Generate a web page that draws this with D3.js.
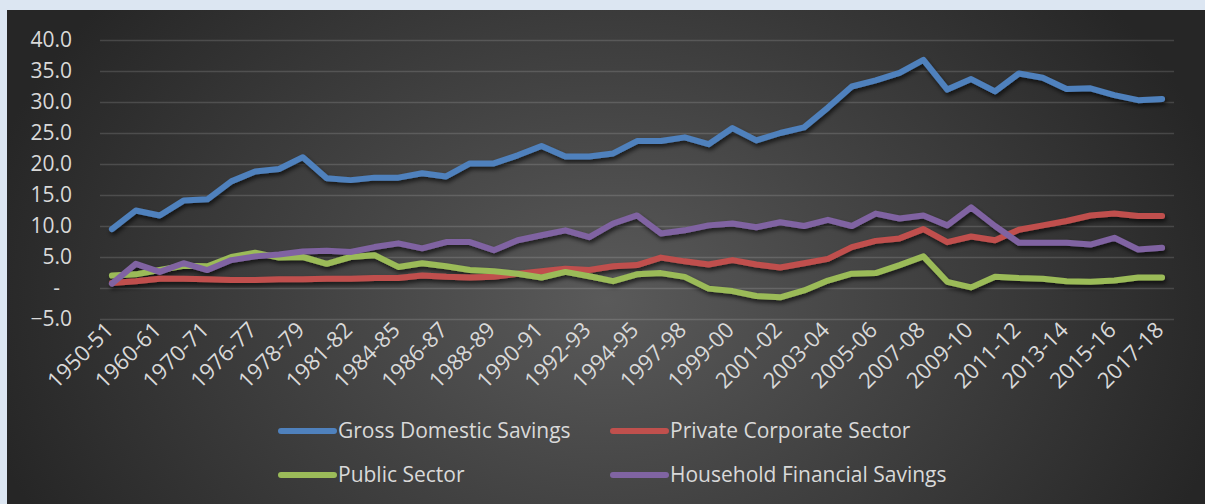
<!DOCTYPE html>
<html>
<head>
<meta charset="utf-8">
<script src="https://cdn.jsdelivr.net/npm/d3@7"></script>
<style>
  html, body { margin: 0; padding: 0; background: #dce6f2; }
  svg { display: block; }
  text { font-family: "Open Sans", "Noto Sans", sans-serif; fill: #d9d9d9; }
</style>
</head>
<body>
<svg id="chart" width="1205" height="504"></svg>
<script>
// Savings as a share of GDP (%), India
const categories = [
  "1950-51", "1955-56", "1960-61", "1965-66", "1970-71", "1975-76", "1976-77", "1977-78",
  "1978-79", "1980-81", "1981-82", "1982-83", "1984-85", "1985-86", "1986-87", "1987-88",
  "1988-89", "1989-90", "1990-91", "1991-92", "1992-93", "1993-94", "1994-95", "1995-96",
  "1997-98", "1998-99", "1999-00", "2000-01", "2001-02", "2002-03", "2003-04", "2004-05",
  "2005-06", "2006-07", "2007-08", "2008-09", "2009-10", "2010-11", "2011-12", "2012-13",
  "2013-14", "2014-15", "2015-16", "2016-17", "2017-18"
];

const grossDomesticSavings = [
  9.5, 12.5, 11.7, 14.1, 14.3, 17.2, 18.8, 19.2, 21.1, 17.7, 17.4, 17.8, 17.8, 18.5, 18.0,
  20.1, 20.1, 21.4, 22.9, 21.2, 21.2, 21.7, 23.7, 23.7, 24.3, 23.2, 25.8, 23.8, 25.0, 25.9,
  29.1, 32.5, 33.5, 34.7, 36.8, 32.0, 33.7, 31.7, 34.6, 33.9, 32.1, 32.2, 31.1, 30.3, 30.5
];

const privateCorporateSector = [
  0.8, 1.1, 1.5, 1.5, 1.4, 1.3, 1.3, 1.4, 1.4, 1.5, 1.5, 1.6, 1.6, 2.0, 1.8,
  1.7, 1.8, 2.3, 2.7, 3.1, 2.9, 3.5, 3.7, 4.9, 4.3, 3.8, 4.5, 3.8, 3.3, 4.0,
  4.7, 6.6, 7.6, 8.0, 9.5, 7.4, 8.3, 7.7, 9.4, 10.1, 10.8, 11.7, 12.0, 11.6, 11.6
];

const publicSector = [
  2.0, 2.2, 2.9, 3.6, 3.5, 5.0, 5.7, 4.9, 5.0, 3.9, 5.0, 5.3, 3.4, 4.0, 3.5,
  2.9, 2.7, 2.3, 1.7, 2.6, 1.9, 1.1, 2.2, 2.4, 1.8, -0.1, -0.5, -1.3, -1.5, -0.4,
  1.2, 2.3, 2.4, 3.7, 5.1, 1.0, 0.1, 1.8, 1.6, 1.5, 1.1, 1.0, 1.2, 1.7, 1.7
];

const householdFinancialSavings = [
  0.7, 3.9, 2.6, 4.0, 2.9, 4.5, 5.1, 5.4, 5.9, 6.0, 5.8, 6.6, 7.2, 6.4, 7.4,
  7.4, 6.1, 7.7, 8.5, 9.3, 8.2, 10.4, 11.7, 8.8, 9.3, 10.1, 10.4, 9.8, 10.6, 10.0,
  11.0, 10.0, 12.0, 11.2, 11.7, 10.1, 13.0, 10.0, 7.3, 7.3, 7.3, 7.0, 8.1, 6.2, 6.5
];

const yTickValues = [-5, 0, 5, 10, 15, 20, 25, 30, 35, 40];

const seriesNames = [
  "Gross Domestic Savings", "Private Corporate Sector",
  "Public Sector", "Household Financial Savings"
];
const seriesColors = ["#4f81bd", "#c0504d", "#9bbb59", "#8064a2"];
const seriesValues = [grossDomesticSavings, privateCorporateSector, publicSector, householdFinancialSavings];

const svg = d3.select("#chart");
const defs = svg.append("defs");

// Dark radial backdrop
const grad = defs.append("radialGradient")
  .attr("id", "bg")
  .attr("gradientUnits", "userSpaceOnUse")
  .attr("cx", 606).attr("cy", 300).attr("r", 640)
  .attr("gradientTransform", "translate(0,300) scale(1,0.75) translate(0,-300)");
grad.append("stop").attr("offset", "0").attr("stop-color", "#5a5a5a");
grad.append("stop").attr("offset", "1").attr("stop-color", "#262626");

const shadow = defs.append("filter").attr("id", "shadow")
  .attr("x", "-10%").attr("y", "-10%").attr("width", "120%").attr("height", "130%");
shadow.append("feDropShadow")
  .attr("dx", 1.5).attr("dy", 3).attr("stdDeviation", 2)
  .attr("flood-color", "#000").attr("flood-opacity", 0.65);

svg.append("rect")
  .attr("x", 7).attr("y", 10).attr("width", 1198).attr("height", 494)
  .attr("fill", "url(#bg)");

const plot = { left: 100, right: 1174, top: 40, bottom: 319 };

const x = d3.scalePoint()
  .domain(categories)
  .range([plot.left, plot.right])
  .padding(0.5);

const y = d3.scaleLinear()
  .domain([-5, 40])
  .range([plot.bottom, plot.top]);

// Horizontal gridlines
const grid = svg.append("g")
  .attr("transform", `translate(${plot.left},0)`)
  .call(d3.axisLeft(y).tickValues(yTickValues).tickSize(-(plot.right - plot.left)).tickFormat(""));
grid.select(".domain").remove();
grid.selectAll("line")
  .attr("stroke", "#ffffff").attr("stroke-opacity", 0.14).attr("stroke-width", 1.4);

// Value axis labels
const yAxis = svg.append("g")
  .attr("transform", `translate(${plot.left},0)`)
  .call(d3.axisLeft(y).tickValues(yTickValues).tickSize(0).tickPadding(28)
    .tickFormat(v => v === 0 ? "-" : d3.format(".1f")(v)));
yAxis.select(".domain").remove();
yAxis.selectAll("text")
  .attr("fill", "#d9d9d9")
  .style("font-size", "21px")
  .attr("x", d => d === 0 ? -40 : -28);

// Category axis labels, every second category
const xAxis = svg.append("g")
  .attr("transform", `translate(0,${plot.bottom})`)
  .call(d3.axisBottom(x)
    .tickValues(categories.filter((c, i) => i % 2 === 0))
    .tickSize(0));
xAxis.select(".domain").remove();
xAxis.selectAll("text")
  .attr("fill", "#d9d9d9")
  .style("font-size", "22px")
  .attr("text-anchor", "end")
  .attr("x", 0).attr("y", 0).attr("dy", "0.35em")
  .attr("transform", "translate(-3,7) rotate(-45)");

// Series lines
const line = d3.line()
  .x((d, i) => x(categories[i]))
  .y(d => y(d));

const lines = svg.append("g").attr("filter", "url(#shadow)");
seriesValues.forEach((vals, k) => {
  lines.append("path")
    .datum(vals)
    .attr("d", line)
    .attr("fill", "none")
    .attr("stroke", seriesColors[k])
    .attr("stroke-width", 6)
    .attr("stroke-linejoin", "round")
    .attr("stroke-linecap", "round");
});

// Legend
const legendCols = [278, 610];
const legendRows = [431, 475];
const legend = svg.append("g");
seriesNames.forEach((name, k) => {
  const lx = legendCols[k % 2];
  const ly = legendRows[Math.floor(k / 2)];
  legend.append("line")
    .attr("x1", lx + 3).attr("x2", lx + 56)
    .attr("y1", ly).attr("y2", ly)
    .attr("stroke", seriesColors[k])
    .attr("stroke-width", 6)
    .attr("stroke-linecap", "round");
  legend.append("text")
    .attr("x", lx + 60).attr("y", ly)
    .attr("dy", "0.35em")
    .style("font-size", "21px")
    .text(name);
});
</script>
</body>
</html>
